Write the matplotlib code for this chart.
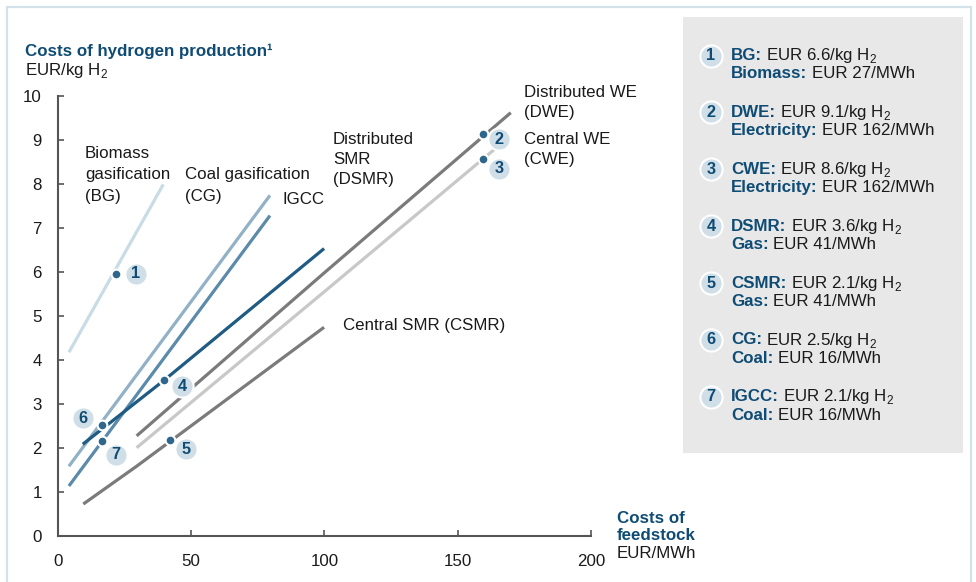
import matplotlib
matplotlib.use("Agg")
import matplotlib.pyplot as plt
from matplotlib.patches import Rectangle
from matplotlib.transforms import offset_copy

plt.rcParams['font.family'] = ['Liberation Sans', 'DejaVu Sans']
plt.rcParams['mathtext.fontset'] = 'custom'
plt.rcParams['mathtext.rm'] = 'Liberation Sans'
plt.rcParams['mathtext.bf'] = 'Liberation Sans:bold'

# ---------------- data ----------------
bg_x, bg_y = [4.2, 39.6], [4.17, 7.99]
cg_x, cg_y = [4.2, 79.6], [1.58, 7.74]
igcc_x, igcc_y = [4.2, 79.6], [1.13, 7.28]
dsmr_x, dsmr_y = [9.4, 40.0, 99.9], [2.08, 3.54, 6.53]
dwe_x, dwe_y = [29.6, 100.0, 169.9], [2.27, 5.98, 9.62]
cwe_x, cwe_y = [29.6, 100.0, 168.0], [2.00, 5.55, 9.00]
csmr_x, csmr_y = [9.6, 29.6, 99.9], [0.72, 1.58, 4.74]

point_ids = [1, 2, 3, 4, 5, 6, 7]
point_x = [21.7, 159.5, 159.5, 40.0, 42.2, 16.7, 16.7]
point_y = [5.96, 9.13, 8.57, 3.54, 2.17, 2.51, 2.16]

techs = ["BG", "DWE", "CWE", "DSMR", "CSMR", "CG", "IGCC"]
h2_cost = ["6.6", "9.1", "8.6", "3.6", "2.1", "2.5", "2.1"]
feed_names = ["Biomass", "Electricity", "Electricity", "Gas", "Gas", "Coal", "Coal"]
feed_cost = [27, 162, 162, 41, 41, 16, 16]

x_ticks = [0, 50, 100, 150, 200]
y_ticks = [0, 1, 2, 3, 4, 5, 6, 7, 8, 9, 10]

# ---------------- style ----------------
W, H = 976, 582
BLUE = "#0f4c75"
TXT = "#1a1a1a"
DOT = "#2f678c"
BADGE = "#cfdee7"
AXC = "#555555"
FS = 12.2

def fx(px):
    return px / W

def fy(py):
    return 1 - py / H

fig = plt.figure(figsize=(W / 100, H / 100), dpi=100)

# outer frame
fig.patches.append(Rectangle((fx(7), fy(600)), fx(971) - fx(7), fy(7) - fy(600),
                             transform=fig.transFigure, fill=False,
                             edgecolor="#d3e2ea", lw=1.6, zorder=-2))
# legend box
fig.patches.append(Rectangle((fx(683), fy(453)), fx(963) - fx(683), fy(17) - fy(453),
                             transform=fig.transFigure, facecolor="#e8e8e8",
                             edgecolor="none", zorder=-2))

ax = fig.add_axes([fx(57.7), fy(535.7), fx(591) - fx(57.7), fy(96) - fy(535.7)])
ax.set_xlim(0, 200)
ax.set_ylim(0, 10)
ax.patch.set_alpha(0)
for s in ["top", "right"]:
    ax.spines[s].set_visible(False)
for s in ["left", "bottom"]:
    ax.spines[s].set_color(AXC)
    ax.spines[s].set_linewidth(1.5)
ax.set_xticks(x_ticks)
ax.set_yticks(y_ticks)
ax.tick_params(axis="both", direction="in", length=4, width=1.2, color=AXC,
               labelsize=FS, labelcolor=TXT)
ax.tick_params(axis="x", pad=13)
ax.tick_params(axis="y", pad=11.5)

lw = 2.3
ax.plot(bg_x, bg_y, color="#c9dce6", lw=lw, solid_capstyle="butt", zorder=2)
ax.plot(csmr_x, csmr_y, color="#7b7b7b", lw=lw, solid_capstyle="butt", zorder=2)
ax.plot(cwe_x, cwe_y, color="#c8c8c8", lw=lw, solid_capstyle="butt", zorder=2)
ax.plot(dwe_x, dwe_y, color="#7b7b7b", lw=lw, solid_capstyle="butt", zorder=2)
ax.plot(cg_x, cg_y, color="#92b1c6", lw=lw, solid_capstyle="butt", zorder=2)
ax.plot(igcc_x, igcc_y, color="#5b8aaa", lw=lw, solid_capstyle="butt", zorder=2)
ax.plot(dsmr_x, dsmr_y, color="#1f5b83", lw=lw, solid_capstyle="butt", zorder=2)

ax.plot(point_x, point_y, "o", ms=7, color=DOT, mec="white", mew=1.5, zorder=4,
        clip_on=False)

badge_off = [(20, 0), (16, -5), (16, -10), (18, -6), (16, -9), (-19, 7), (14, -14)]
for pid, x, y, (dx, dy) in zip(point_ids, point_x, point_y, badge_off):
    tr = offset_copy(ax.transData, fig=fig, x=dx, y=dy, units="dots")
    ax.plot([x], [y], "o", ms=16, color=BADGE, mec="white", mew=1.5,
            transform=tr, zorder=5, clip_on=False)
    ax.text(x, y, str(pid), transform=tr, ha="center", va="center",
            fontsize=FS - 0.5, fontweight="bold", color=BLUE, zorder=6)


def label(lines, x, y0, step=20.5, color=TXT, weight="normal"):
    for i, s in enumerate(lines):
        fig.text(fx(x), fy(y0 + i * step), s, ha="left", va="baseline",
                 fontsize=FS, color=color, fontweight=weight)


label(["Biomass", "gasification", "(BG)"], 85, 158.5, 21)
label(["Coal gasification", "(CG)"], 185, 179.5, 21)
label(["IGCC"], 283, 203.5)
label(["Distributed", "SMR", "(DSMR)"], 333, 144, 20)
label(["Distributed WE", "(DWE)"], 524, 96.7, 20.5)
label(["Central WE", "(CWE)"], 524, 144, 20)
label(["Central SMR (CSMR)"], 343, 330)

# title
fig.text(fx(25), fy(56), "Costs of hydrogen production\u00b9", ha="left", va="baseline",
         fontsize=FS, fontweight="bold", color=BLUE)
fig.text(fx(25), fy(75), "EUR/kg H$_2$", ha="left", va="baseline", fontsize=FS, color=TXT)

# x axis label
label(["Costs of", "feedstock"], 617, 523, 17.5, color=BLUE, weight="bold")
label(["EUR/MWh"], 617, 558.5)

# legend box entries
for i, (t, c, fn, fc) in enumerate(zip(techs, h2_cost, feed_names, feed_cost)):
    b1 = 60 + 56.9 * i
    b2 = b1 + 18.3
    cx, cy = fx(711), fy(b1 - 4.5)
    fig.add_artist(plt.Line2D([cx], [cy], marker="o", ms=16, color=BADGE, mec="white",
                              mew=1.5, transform=fig.transFigure))
    fig.text(cx, cy, str(point_ids[i]), ha="center", va="center", fontsize=FS - 0.5,
             fontweight="bold", color=BLUE)
    t1 = fig.text(fx(731), fy(b1), t + ":", ha="left", va="baseline", fontsize=FS,
                  fontweight="bold", color=BLUE)
    ax.annotate("EUR " + c + "/kg H$_2$", xy=(1.0, fy(b1)),
                xycoords=(t1, "figure fraction"), xytext=(3.2, 0),
                textcoords="offset points", ha="left", va="baseline",
                fontsize=FS, color=TXT, annotation_clip=False)
    t2 = fig.text(fx(731), fy(b2), fn + ":", ha="left", va="baseline", fontsize=FS,
                  fontweight="bold", color=BLUE)
    ax.annotate(f"EUR {fc}/MWh", xy=(1.0, fy(b2)),
                xycoords=(t2, "figure fraction"), xytext=(3.2, 0),
                textcoords="offset points", ha="left", va="baseline",
                fontsize=FS, color=TXT, annotation_clip=False)

fig.savefig("out.png", dpi=100)
